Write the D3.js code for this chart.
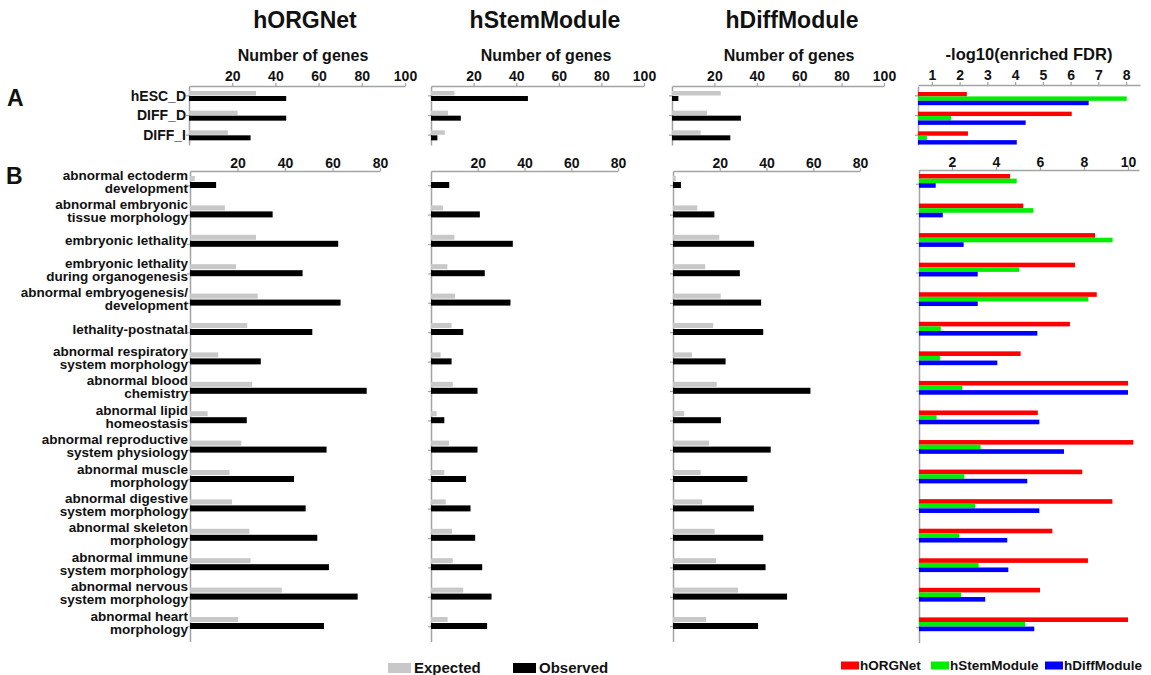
<!DOCTYPE html>
<html><head><meta charset="utf-8">
<script src="https://cdn.jsdelivr.net/npm/d3@7"></script>
<style>
body{margin:0;background:#fff}
svg{display:block}
text{font-family:"Liberation Sans",Arial,Helvetica,sans-serif;font-weight:bold;fill:#111}
</style>
</head><body>
<svg id="c" width="1151" height="675"></svg>
<script>
// ---------- DATA ----------
const panelTitles = ["hORGNet", "hStemModule", "hDiffModule"];
const countAxisTitle = "Number of genes";
const fdrAxisTitle = "-log10(enriched FDR)";
const countLegend = ["Expected", "Observed"];
const fdrLegend = ["hORGNet", "hStemModule", "hDiffModule"];

// Panel A
const aCategories = ["hESC_D", "DIFF_D", "DIFF_I"];
const aTicksCount = [20, 40, 60, 80, 100];
const aTicksFdr = [1, 2, 3, 4, 5, 6, 7, 8];
const aExpORG  = [31, 22.5, 18];
const aObsORG  = [45, 45, 28.5];
const aExpStem = [11, 8, 6.5];
const aObsStem = [45.5, 14, 3];
const aExpDiff = [23, 16.5, 13.5];
const aObsDiff = [3, 32.5, 27.5];
const aFdrORG  = [2.26, 6.04, 2.3];
const aFdrStem = [8.02, 1.69, 0.82];
const aFdrDiff = [6.65, 4.38, 4.06];

// Panel B
const bCategories = [
  ["abnormal ectoderm", "development"],
  ["abnormal embryonic", "tissue morphology"],
  ["embryonic lethality"],
  ["embryonic lethality", "during organogenesis"],
  ["abnormal embryogenesis/", "development"],
  ["lethality-postnatal"],
  ["abnormal respiratory", "system morphology"],
  ["abnormal blood", "chemistry"],
  ["abnormal lipid", "homeostasis"],
  ["abnormal reproductive", "system physiology"],
  ["abnormal muscle", "morphology"],
  ["abnormal digestive", "system morphology"],
  ["abnormal skeleton", "morphology"],
  ["abnormal immune", "system morphology"],
  ["abnormal nervous", "system morphology"],
  ["abnormal heart", "morphology"]
];
const bTicksCount = [20, 40, 60, 80];
const bTicksFdr = [2, 4, 6, 8, 10];
const bExpORG  = [2, 14.7, 27.8, 19.4, 28.5, 24.1, 11.9, 26.2, 7.4, 21.6, 16.6, 17.7, 25, 25.5, 38.6, 20.2];
const bObsORG  = [11, 34.8, 62.4, 47.4, 63.4, 51.5, 29.8, 74.4, 23.9, 57.5, 43.8, 48.7, 53.6, 58.5, 70.6, 56.4];
const bExpStem = [0, 5.1, 10, 7, 10.3, 8.8, 4.1, 9.3, 2.4, 7.7, 5.7, 6.3, 9, 9.3, 13.8, 7.1];
const bObsStem = [7.8, 20.9, 35, 23, 34, 13.8, 8.8, 19.9, 5.7, 19.9, 15, 16.9, 18.9, 21.9, 25.9, 24];
const bExpDiff = [1.2, 10.4, 19.8, 13.8, 20.4, 17.2, 8.1, 18.7, 4.8, 15.4, 11.8, 12.5, 17.8, 18.4, 27.8, 14.2];
const bObsDiff = [3.4, 17.7, 34.7, 28.6, 37.7, 38.6, 22.5, 58.8, 20.5, 41.8, 31.8, 34.6, 38.6, 39.6, 48.8, 36.4];
const bFdrORG  = [4.64, 5.24, 8.5, 7.59, 8.58, 7.36, 5.12, 10.0, 5.9, 10.24, 7.92, 9.29, 6.56, 8.18, 6.0, 10.0];
const bFdrStem = [4.94, 5.7, 9.3, 5.06, 8.2, 1.49, 1.45, 2.47, 1.3, 3.3, 2.56, 3.05, 2.33, 3.21, 2.41, 5.33];
const bFdrDiff = [1.26, 1.58, 2.53, 3.17, 3.17, 5.88, 4.06, 10.0, 5.97, 7.09, 5.42, 5.97, 4.51, 4.56, 3.51, 5.74];

// ---------- STYLE ----------
const AXIS = "#a3a3a3";
const EXP_COLOR = "#c8c8c8";
const OBS_COLOR = "#000000";
const FDR_COLORS = ["#ff0000", "#00ee00", "#0000ff"];

const svg = d3.select("#c");
svg.append("rect").attr("width", 1151).attr("height", 675).attr("fill", "#fff");

function styleAxis(g, fs) {
  g.attr("font-family", null).attr("font-size", null);
  g.select(".domain").attr("stroke", AXIS).attr("stroke-width", 1.5);
  g.selectAll(".tick line").attr("stroke", AXIS).attr("stroke-width", 1.2);
  g.selectAll(".tick text").style("font-size", fs + "px").attr("fill", "#111");
}
function topAxis(x, y, ticks, spacing) {
  const g = svg.append("g").attr("transform", `translate(0,${y})`)
    .call(d3.axisTop(x).tickValues(ticks).tickSize(3).tickPadding(spacing - 3).tickSizeOuter(0).tickFormat(d3.format("d")));
  styleAxis(g, 14);
}
function leftAxis(yScale, x) {
  const g = svg.append("g").attr("transform", `translate(${x},0)`)
    .call(d3.axisLeft(yScale).tickSize(3).tickSizeOuter(0).tickFormat(""));
  styleAxis(g, 13);
}

// count panel: expected (gray) + observed (black)
function countPanel(x, yScale, n, exp, obs, ticks, axisY, spacing, geo) {
  topAxis(x, axisY, ticks, spacing);
  leftAxis(yScale, x.range()[0]);
  const idx = d3.range(n);
  const x0 = x(0);
  const g = svg.append("g");
  g.selectAll("rect.e").data(idx).join("rect")
    .attr("x", x0).attr("y", i => yScale(i) + geo.eY).attr("height", geo.eH)
    .attr("width", i => Math.max(0, x(exp[i]) - x0)).attr("fill", EXP_COLOR);
  g.selectAll("rect.o").data(idx).join("rect")
    .attr("x", x0).attr("y", i => yScale(i) + geo.oY).attr("height", geo.oH)
    .attr("width", i => Math.max(0, x(obs[i]) - x0)).attr("fill", OBS_COLOR);
}
function fdrPanel(x, yScale, n, series, ticks, axisY, spacing, geo) {
  topAxis(x, axisY, ticks, spacing);
  leftAxis(yScale, x.range()[0]);
  const idx = d3.range(n);
  const x0 = x.range()[0];
  series.forEach((vals, s) => {
    svg.append("g").selectAll("rect").data(idx).join("rect")
      .attr("x", x0).attr("y", i => yScale(i) + geo.y0 + s * geo.h).attr("height", geo.h)
      .attr("width", i => Math.max(0, x(vals[i]) - x0)).attr("fill", FDR_COLORS[s]);
  });
}

// ---------- TITLES ----------
const titleX = [305, 545, 792];
panelTitles.forEach((t, i) => {
  svg.append("text").attr("x", titleX[i]).attr("y", 28).attr("text-anchor", "middle")
    .style("font-size", "23px").text(t);
});
[303, 546, 789].forEach(cx => {
  svg.append("text").attr("x", cx).attr("y", 61).attr("text-anchor", "middle")
    .style("font-size", "16px").text(countAxisTitle);
});
svg.append("text").attr("x", 1029).attr("y", 60).attr("text-anchor", "middle")
  .style("font-size", "16.5px").text(fdrAxisTitle);

svg.append("text").attr("x", 7).attr("y", 106).style("font-size", "23px").text("A");
svg.append("text").attr("x", 6).attr("y", 184).style("font-size", "23px").text("B");

// ---------- PANEL A ----------
const yA = d3.scaleBand().domain(d3.range(aCategories.length)).range([86, 145]);
const geoA = {eY: 5, eH: 4.5, oY: 10, oH: 5};
countPanel(d3.scaleLinear().domain([0, 100]).range([189, 405]), yA, 3, aExpORG, aObsORG, aTicksCount, 86, 5.5, geoA);
countPanel(d3.scaleLinear().domain([0, 100]).range([431, 644]), yA, 3, aExpStem, aObsStem, aTicksCount, 86, 5.5, geoA);
countPanel(d3.scaleLinear().domain([0, 100]).range([672, 884]), yA, 3, aExpDiff, aObsDiff, aTicksCount, 86, 5.5, geoA);
fdrPanel(d3.scaleLinear().domain([0.5, 8.5]).range([918, 1140]), yA, 3, [aFdrORG, aFdrStem, aFdrDiff], aTicksFdr, 85, 5.5, {y0: 6, h: 4.4});

svg.append("g").selectAll("text").data(aCategories).join("text")
  .attr("x", 186).attr("y", (d, i) => yA(i) + 14.5).attr("text-anchor", "end")
  .style("font-size", "14px").text(d => d);

// ---------- PANEL B ----------
const stepB = 29.4;
const yB = d3.scaleBand().domain(d3.range(bCategories.length)).range([171, 171 + 16 * stepB]);
const yBF = d3.scaleBand().domain(d3.range(bCategories.length)).range([169.5, 169.5 + 16 * 29.56]);
const geoB = {eY: 5, eH: 5, oY: 11, oH: 6};
countPanel(d3.scaleLinear().domain([0, 80]).range([190, 380]), yB, 16, bExpORG, bObsORG, bTicksCount, 171, 3, geoB);
countPanel(d3.scaleLinear().domain([0, 80]).range([431, 618]), yB, 16, bExpStem, bObsStem, bTicksCount, 171, 3, geoB);
countPanel(d3.scaleLinear().domain([0, 80]).range([673, 860]), yB, 16, bExpDiff, bObsDiff, bTicksCount, 171, 3, geoB);
fdrPanel(d3.scaleLinear().domain([0.5, 10.5]).range([919, 1139]), yBF, 16, [bFdrORG, bFdrStem, bFdrDiff], bTicksFdr, 170, 3, {y0: 4.5, h: 4.6});

const lab = svg.append("g").selectAll("text").data(bCategories).join("text")
  .attr("text-anchor", "end").style("font-size", "13.5px");
lab.each(function(lines, i) {
  const t = d3.select(this);
  const base = lines.length === 1 ? yB(i) + 15.5 : yB(i) + 8.5;
  lines.forEach((ln, k) => {
    t.append("tspan").attr("x", 188).attr("y", base + k * 13).text(ln);
  });
});

// ---------- LEGENDS ----------
const legCountX = [388, 513];
const legCountColors = [EXP_COLOR, OBS_COLOR];
countLegend.forEach((name, i) => {
  svg.append("rect").attr("x", legCountX[i]).attr("y", 663).attr("width", 23).attr("height", 10).attr("fill", legCountColors[i]);
  svg.append("text").attr("x", legCountX[i] + 26).attr("y", 673).style("font-size", "15px").text(name);
});
const legFdrX = [841, 931, 1045];
fdrLegend.forEach((name, i) => {
  svg.append("rect").attr("x", legFdrX[i]).attr("y", 661.5).attr("width", 18).attr("height", 8).attr("fill", FDR_COLORS[i]);
  svg.append("text").attr("x", legFdrX[i] + 19).attr("y", 669.5).style("font-size", "13.5px").text(name);
});
</script>
</body></html>
